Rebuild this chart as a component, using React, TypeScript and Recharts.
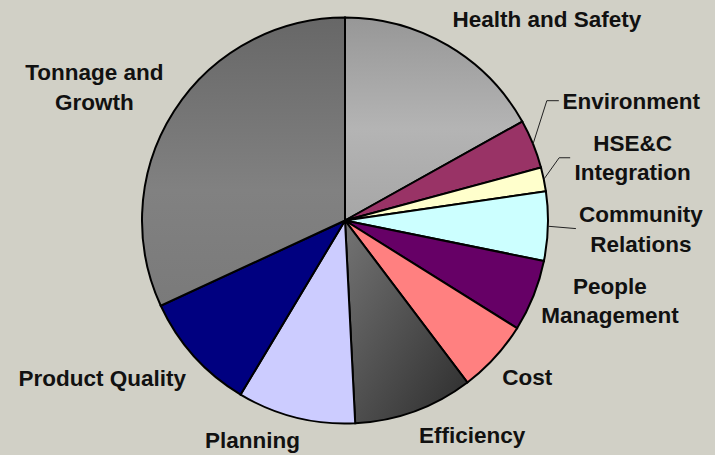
import { Cell, Pie, PieChart } from "recharts";

// Share of focus areas (percent of total)
const categories = [
  "Health and Safety",
  "Environment",
  "HSE&C Integration",
  "Community Relations",
  "People Management",
  "Cost",
  "Efficiency",
  "Planning",
  "Product Quality",
  "Tonnage and Growth",
];
const shares = [16.9, 3.9, 1.9, 5.5, 5.7, 5.8, 9.5, 9.4, 9.5, 31.9];

// Label text split into lines as in the original chart
const labelLines: Record<string, string[]> = {
  "Health and Safety": ["Health and Safety"],
  Environment: ["Environment"],
  "HSE&C Integration": ["HSE&C", "Integration"],
  "Community Relations": ["Community", "Relations"],
  "People Management": ["People", "Management"],
  Cost: ["Cost"],
  Efficiency: ["Efficiency"],
  Planning: ["Planning"],
  "Product Quality": ["Product Quality"],
  "Tonnage and Growth": ["Tonnage and", "Growth"],
};

const fills = [
  "url(#gradHealth)",
  "#993366",
  "#FFFFCC",
  "#CCFFFF",
  "#660066",
  "#FF8080",
  "url(#gradEfficiency)",
  "#CCCCFF",
  "#000080",
  "url(#gradTonnage)",
];

// label nudges from the point 30px outside the slice, plus optional leader line
const labelNudge: Record<string, { dx: number; dy: number; leader?: [number, number, number, number] }> = {
  "Health and Safety": { dx: 84, dy: -1 },
  Environment: { dx: 70.5, dy: -32, leader: [-84.5, 0, -72.5, 0] },
  "HSE&C Integration": { dx: 59.5, dy: -16, leader: [-73.5, 0.5, -62.5, 0.5] },
  "Community Relations": { dx: 63, dy: 2, leader: [-65, -0.5, -65, -0.5] },
  "People Management": { dx: 48.6, dy: -6.7 },
  Cost: { dx: 10.5, dy: -0.7 },
  Efficiency: { dx: 47.5, dy: -4 },
  Planning: { dx: -36, dy: -7 },
  "Product Quality": { dx: -69.5, dy: 1.5 },
  "Tonnage and Growth": { dx: -54.3, dy: -8 },
};

const data = categories.map((name, i) => ({ name, value: shares[i] }));

const RADIAN = Math.PI / 180;
const LINE_GAP = 29.5;

function renderLabel(props: any) {
  const { cx, cy, midAngle, outerRadius, name } = props;
  const cos = Math.cos(-midAngle * RADIAN);
  const sin = Math.sin(-midAngle * RADIAN);
  const nudge = labelNudge[name] || { dx: 0, dy: 0 };
  const tx = cx + (outerRadius + 30) * cos + nudge.dx;
  const ty = cy + (outerRadius + 30) * sin + nudge.dy;
  const lines = labelLines[name] || [name];
  const first = ty - ((lines.length - 1) * LINE_GAP) / 2;
  let leader = null;
  if (nudge.leader) {
    const [ex, ey, fx, fy] = nudge.leader;
    const sx = cx + outerRadius * cos;
    const sy = cy + outerRadius * sin;
    leader = (
      <polyline
        points={`${sx},${sy} ${tx + ex},${ty + ey} ${tx + fx},${ty + fy}`}
        fill="none"
        stroke="#222"
        strokeWidth={1}
      />
    );
  }
  return (
    <g key={`label-${name}`}>
      {leader}
      <text
        x={tx}
        y={first}
        textAnchor="middle"
        dominantBaseline="central"
        fill="#111"
        fontFamily='"Liberation Sans", Arial, sans-serif'
        fontWeight="bold"
        fontSize={22.5}
      >
        {lines.map((l, i) => (
          <tspan key={l} x={tx} dy={i === 0 ? 0 : LINE_GAP}>
            {l}
          </tspan>
        ))}
      </text>
    </g>
  );
}

export default function App() {
  return (
    <div
      style={{
        position: "absolute",
        left: 0,
        top: 0,
        width: 715,
        height: 455,
        background: "#d1d0c6",
        overflow: "hidden",
      }}
    >
      <PieChart width={715} height={455} margin={{ top: 0, right: 0, bottom: 0, left: 0 }}>
        <defs>
          <linearGradient id="gradHealth" x1="0" y1="0" x2="0" y2="1">
            <stop offset="0%" stopColor="#979797" />
            <stop offset="55%" stopColor="#b4b4b4" />
            <stop offset="100%" stopColor="#a6a6a6" />
          </linearGradient>
          <linearGradient id="gradTonnage" x1="0" y1="0" x2="0" y2="1">
            <stop offset="0%" stopColor="#676767" />
            <stop offset="60%" stopColor="#818181" />
            <stop offset="100%" stopColor="#7a7a7a" />
          </linearGradient>
          <linearGradient id="gradEfficiency" x1="0" y1="0" x2="1" y2="1">
            <stop offset="0%" stopColor="#747474" />
            <stop offset="100%" stopColor="#2c2c2c" />
          </linearGradient>
        </defs>
        <Pie
          data={data}
          dataKey="value"
          nameKey="name"
          cx={345}
          cy={220.5}
          outerRadius={203}
          startAngle={90}
          endAngle={-270}
          stroke="#000"
          strokeWidth={2}
          labelLine={false}
          label={renderLabel}
          isAnimationActive={false}
        >
          {data.map((d, i) => (
            <Cell key={d.name} fill={fills[i]} />
          ))}
        </Pie>
      </PieChart>
    </div>
  );
}
